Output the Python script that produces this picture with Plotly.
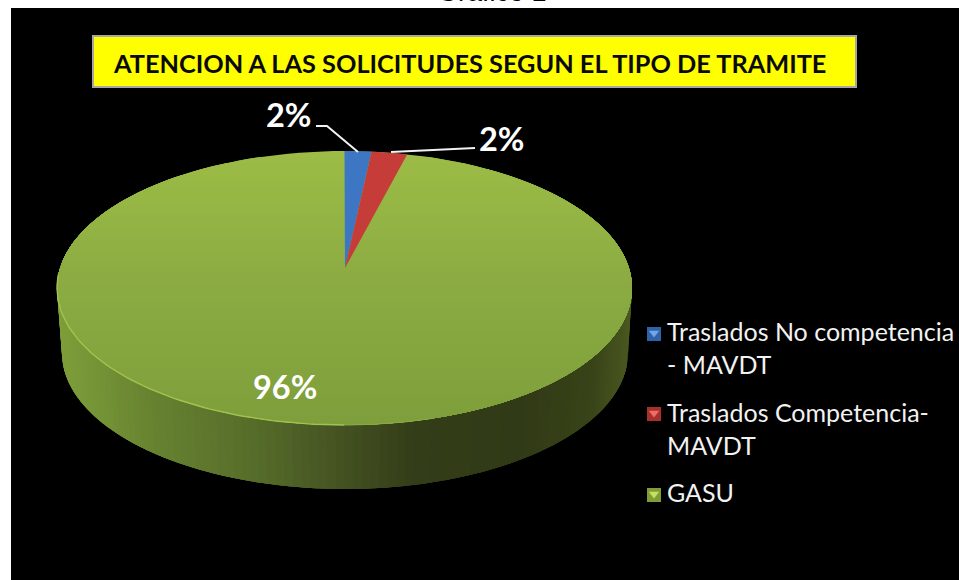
import numpy as np
import plotly.graph_objects as go

# ---- data ----
categories = ["Traslados No competencia<br>- MAVDT", "Traslados Competencia-<br>MAVDT", "GASU"]
values = [1.5, 2.0, 96.4]
slice_colors = ["#3d76c2", "#c63c38", "#9bbb45"]
marker_edge = ["#2f62a6", "#a82f2c", "#7f9c36"]
marker_light = ["#6fa6e6", "#ec6e68", "#c6e05e"]
chart_title = "ATENCION A LAS SOLICITUDES SEGUN EL TIPO DE TRAMITE"
caption = "Gráfico 1"

# ---- layout geometry (pixels of the canvas) ----
W, H = 959, 580
CX, CY, RX, RY = 344.5, 288.0, 287.5, 137.0
APEX = (345.0, 268.0)
BCX, BCY, BRX, BRY = 345.0, 353.0, 283.0, 136.0
LEGEND_MARK_X = 654
LEGEND_MARK_Y = [334, 414, 495]
LEGEND_TEXT_X = 665
LEGEND_TEXT_Y = [347, 428, 492]

shares = np.array(values) / sum(values)
edges = np.concatenate([[0], np.cumsum(shares)]) * 2 * np.pi


def top_pt(t):
    return CX + RX * np.sin(t), CY - RY * np.cos(t)


def bot_pt(t):
    return BCX + BRX * np.sin(t), BCY - BRY * np.cos(t)


def lerp_color(stops, v):
    xs = [s[0] for s in stops]
    cs = np.array([[int(s[1][i:i + 2], 16) for i in (1, 3, 5)] for s in stops], float)
    rgb = [np.interp(v, xs, cs[:, k]) for k in range(3)]
    return "rgb(%d,%d,%d)" % tuple(round(c) for c in rgb)


fig = go.Figure()


def poly(x, y, color, name=None):
    fig.add_trace(go.Scatter(x=list(x), y=list(y), mode="lines", fill="toself", fillcolor=color,
                             line=dict(width=0, color=color), showlegend=False,
                             hoverinfo="skip" if name is None else "name", name=name))


# side wall: base plus vertical shaded slices painted with overlap (no seams)
wall_stops = [(57, "#7e9e3a"), (150, "#668230"), (250, "#566c2a"), (345, "#424f20"),
              (410, "#333d18"), (520, "#313a16"), (590, "#384318"), (632, "#4a5820")]
ts = np.linspace(np.pi / 2 - 0.12, 3 * np.pi / 2 + 0.12, 241)
tx, ty = top_pt(ts)
bx, by = bot_pt(ts)
poly(np.r_[tx, bx[::-1]], np.r_[ty, by[::-1]], "#424f20")
n_wall = 110
wall_t = np.linspace(3 * np.pi / 2 + 0.12, np.pi / 2 - 0.12, n_wall + 1)
for i in range(n_wall):
    end = max(wall_t[i + 1] - 0.06, wall_t[-1])
    seg = np.linspace(wall_t[i], end, 8)
    tx, ty = top_pt(seg)
    bx, by = bot_pt(seg)
    poly(np.r_[tx, bx[::-1]], np.r_[ty, by[::-1]], lerp_color(wall_stops, float(tx[0])))

# top face: vertical gradient painted as nested caps, top to bottom
face_stops = [(151, "#9cbc46"), (290, "#8aaa42"), (425, "#7e9e3b")]
for yy in np.linspace(CY - RY, CY + RY - 4, 46):
    c = np.clip((CY - yy) / RY, -1, 1)
    a = np.arccos(c)
    seg = np.linspace(a, 2 * np.pi - a, 160)
    tx, ty = top_pt(seg)
    poly(tx, ty, lerp_color(face_stops, float(yy)))

# highlight along the front-left rim
for a0, a1, col, w in [(np.pi, 1.5 * np.pi + 0.1, "#9fc44e", 1.4), (0.9 * np.pi, np.pi, "#8aab44", 1.0)]:
    seg = np.linspace(a0, a1, 80)
    tx, ty = top_pt(seg)
    fig.add_trace(go.Scatter(x=tx, y=ty, mode="lines", line=dict(color=col, width=w),
                             showlegend=False, hoverinfo="skip"))

# the two small slices, from the data
for i in range(2):
    seg = np.linspace(edges[i], edges[i + 1], 12)
    tx, ty = top_pt(seg)
    poly(np.r_[APEX[0], tx], np.r_[APEX[1], ty], slice_colors[i], categories[i].replace("<br>", " "))

# leader lines
for lx, ly in [([316, 327, 358], [126, 126, 152]), ([391, 475], [152, 148])]:
    fig.add_trace(go.Scatter(x=lx, y=ly, mode="lines", line=dict(color="#f2f2f2", width=2),
                             showlegend=False, hoverinfo="skip"))

# legend swatches (bevelled squares)
for i, cat in enumerate(categories):
    fig.add_trace(go.Scatter(x=[LEGEND_MARK_X], y=[LEGEND_MARK_Y[i]], mode="markers", showlegend=False,
                             name=cat.replace("<br>", " "), hoverinfo="name",
                             marker=dict(symbol="square", size=14, color=marker_edge[i])))
    fig.add_trace(go.Scatter(x=[LEGEND_MARK_X], y=[LEGEND_MARK_Y[i] - 1], mode="markers", showlegend=False,
                             hoverinfo="skip", marker=dict(symbol="triangle-down", size=9, color=marker_light[i])))

pct = [f"{round(s * 100)}%" for s in shares]
label_font = dict(family="Lato", size=32.5, color="white", weight="bold")
annotations = [
    dict(x=288, y=114, text=pct[0], font=label_font),
    dict(x=501, y=138, text=pct[1], font=label_font),
    dict(x=285, y=386, text=pct[2], font=label_font),
    dict(x=469.5, y=63, text=f"<b>{chart_title}</b>",
         font=dict(family="Lato", size=25.3, color="#0a0a0a")),
]
for a in annotations:
    a.update(xref="x", yref="y", showarrow=False)
for i, cat in enumerate(categories):
    annotations.append(dict(xref="x", yref="y", x=LEGEND_TEXT_X, y=LEGEND_TEXT_Y[i], text=cat, showarrow=False,
                            xanchor="left", yanchor="middle", align="left",
                            font=dict(family="Lato", size=25, color="#f2f2f2")))
annotations.append(dict(xref="paper", yref="paper", x=492 / W, y=1, yshift=-9, xanchor="center", yanchor="bottom",
                        text=caption, showarrow=False,
                        font=dict(family="Liberation Sans", size=27, color="black")))

fig.update_layout(
    width=W, height=H, margin=dict(l=0, r=0, t=0, b=0), autosize=False,
    paper_bgcolor="white", plot_bgcolor="white",
    xaxis=dict(range=[0, W], visible=False, fixedrange=True),
    yaxis=dict(range=[H, 0], visible=False, fixedrange=True),
    shapes=[
        dict(type="rect", xref="x", yref="y", x0=11, x1=W, y0=8, y1=H, fillcolor="black", line_width=0, layer="below"),
        dict(type="rect", xref="x", yref="y", x0=93, x1=856, y0=36, y1=87, fillcolor="#ffff00",
             line=dict(color="#a6a6a6", width=2), layer="below"),
    ],
    annotations=annotations,
    showlegend=False,
)
fig.write_html("out.html", config=dict(displayModeBar=False),
               post_script="document.body.style.margin='0';document.body.style.overflow='hidden';")
